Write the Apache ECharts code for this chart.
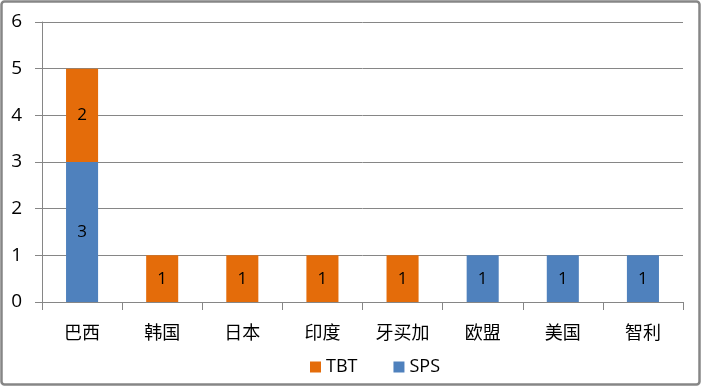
<!DOCTYPE html>
<html><head><meta charset="utf-8">
<script src="https://cdn.jsdelivr.net/npm/echarts@6/dist/echarts.min.js"></script>
<style>html,body{margin:0;padding:0;background:#fff}#c{width:702px;height:387px}</style>
</head><body><div id="c"></div>
<script>
const categories = ['巴西','韩国','日本','印度','牙买加','欧盟','美国','智利'];
const spsValues = [3,0,0,0,0,1,1,1];
const tbtValues = [2,1,1,1,1,0,0,0];
const yTicks = [0,1,2,3,4,5,6];

const font = '"Open Sans","Noto Sans CJK SC",sans-serif';
const cjk = '"Noto Sans CJK SC",sans-serif';
const chart = echarts.init(document.getElementById('c'));
const lbl = {show:true, position:'inside', color:'#000', fontSize:17, fontFamily:font,
  formatter: p => p.value ? String(p.value) : ''};
chart.setOption({
  animation:false,
  graphic:[{type:'rect', shape:{x:1.5,y:1.5,width:698,height:383,r:3},
    style:{fill:'none', stroke:'#868686', lineWidth:2.5}, silent:true}],
  grid:{left:42, right:19, top:22, bottom:85, containLabel:false},
  legend:{data:['TBT','SPS'], left:305, top:353, itemWidth:11, itemHeight:11, itemGap:36,
    icon:'rect', textStyle:{fontSize:18, fontFamily:font, color:'#000'}},
  xAxis:{type:'category', data:categories,
    axisLine:{lineStyle:{color:'#868686', width:1}},
    axisTick:{show:true, length:8, lineStyle:{color:'#868686'}},
    axisLabel:{fontSize:18, fontFamily:cjk, color:'#000', margin:21}},
  yAxis:{type:'value', min:yTicks[0], max:yTicks[yTicks.length-1], interval:1,
    axisLine:{show:true, lineStyle:{color:'#868686'}},
    axisTick:{show:true, length:7, lineStyle:{color:'#868686'}},
    splitLine:{lineStyle:{color:'#868686'}},
    axisLabel:{fontSize:19, fontFamily:font, color:'#000', margin:20}},
  series:[
    {name:'SPS', type:'bar', stack:'a', data:spsValues, barWidth:'40%',
      itemStyle:{color:'#4F81BD'}, label:lbl},
    {name:'TBT', type:'bar', stack:'a', data:tbtValues, barWidth:'40%',
      itemStyle:{color:'#E46C0A'}, label:lbl}
  ]
});
</script></body></html>
